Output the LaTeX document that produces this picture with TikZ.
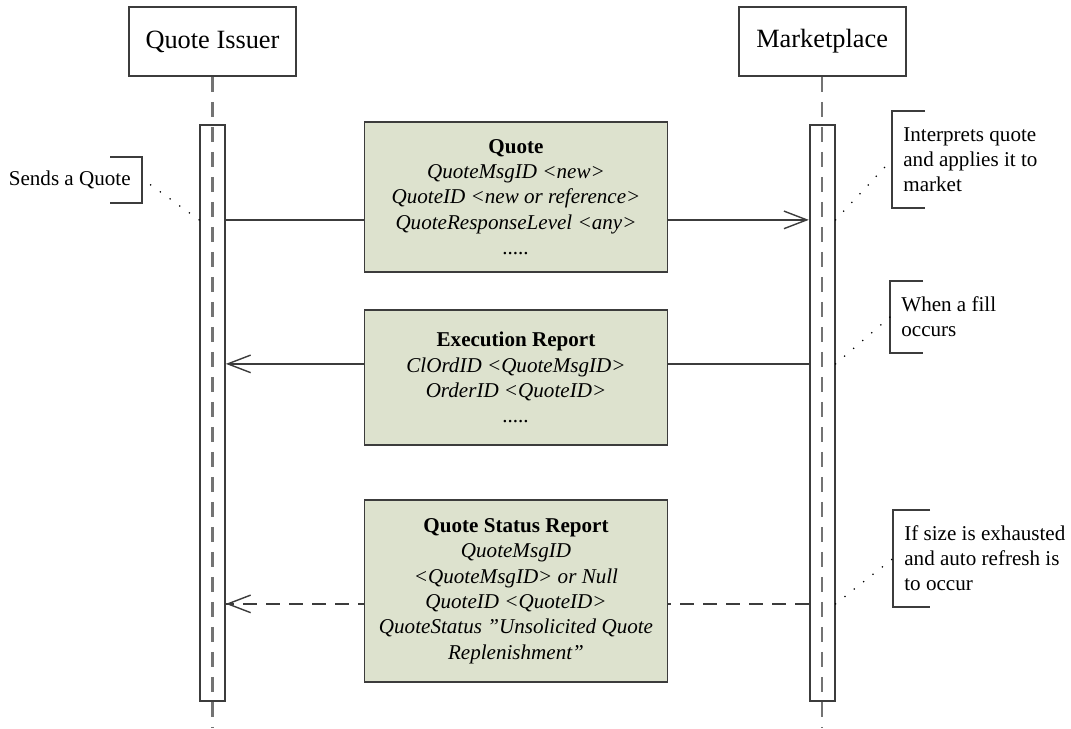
\documentclass[tikz,border=0pt]{standalone}
\usepackage{fontspec}
\setmainfont{Liberation Serif}
\usetikzlibrary{arrows.meta, positioning, calc}

\definecolor{msgfill}{RGB}{221,226,206}
\definecolor{linegray}{RGB}{60,60,60}
\definecolor{lifegray}{RGB}{115,115,115}

\begin{document}
\begin{tikzpicture}[
		x=0.02cm, y=-0.02cm,
		% Styles for the sequence diagram
		actor/.style = {draw=linegray, line width=1pt, fill=white, rectangle, minimum width=3.34cm, minimum height=1.38cm, font=\fontsize{15}{18}\selectfont},
		actbar/.style = {draw=linegray, line width=1pt, rectangle, minimum width=0.5cm, minimum height=11.53cm, inner sep=0pt, anchor=north},
		lifeline/.style = {draw=lifegray, line width=1.5pt, dash pattern=on 0.3cm off 0.2cm},
		msg/.style = {draw=linegray, line width=1pt, fill=msgfill, rectangle, minimum width=6.06cm, align=center, inner sep=0pt, font=\fontsize{12}{14.4}\selectfont\itshape},
		call/.style = {draw=linegray, line width=0.8pt},
		reply/.style = {call, dash pattern=on 0.28cm off 0.18cm},
		note/.style = {align=left, inner xsep=0.22cm, inner ysep=0pt, font=\fontsize{12}{14.2}\selectfont},
		hook/.style = {draw=linegray, line width=1pt},
		link/.style = {draw=black, line width=1pt, line cap=round, dash pattern=on 0pt off 6.8pt},
		>={Straight Barb[length=13pt, width=10pt]}
		]
		
		\useasboundingbox (0,0) rectangle (1071,728);
		\coordinate (bottom) at (0,728);
		
		% --- PARTICIPANTS ---
		\node [actor] (issuer) at (212.5,41.5) {Quote Issuer};
		\node [actor, right=8.82cm of issuer] (market) {Marketplace};
		
		% Lifelines
		\draw [lifeline] (issuer.south) -- (issuer.south |- bottom);
		\draw [lifeline] (market.south) -- (market.south |- bottom);
		
		% Activation bars
		\node [actbar] (issuer_act) at ($(issuer.south)+(0,47)$) {};
		\node [actbar] (market_act) at ($(market.south)+(0,47)$) {};
		
		% Points where the messages meet the bars
		\coordinate (q_from) at ($(issuer_act.north east)+(0,96)$);
		\coordinate (q_side) at ($(issuer_act.north west)+(0,96)$);
		\coordinate (q_to)   at ($(market_act.north west)+(0,96)$);
		\coordinate (q_out)  at ($(market_act.north east)+(0,96)$);
		\coordinate (e_to)   at ($(issuer_act.north east)+(0,240)$);
		\coordinate (e_from) at ($(market_act.north west)+(0,240)$);
		\coordinate (e_out)  at ($(market_act.north east)+(0,240)$);
		\coordinate (s_to)   at ($(issuer_act.north east)+(0,480)$);
		\coordinate (s_from) at ($(market_act.north west)+(0,480)$);
		\coordinate (s_out)  at ($(market_act.north east)+(0,480)$);
		
		% --- MESSAGES ---
		\draw [call, ->] (q_from) -- (q_to);
		\draw [call, ->] (e_from) -- (e_to);
		\draw [reply] (s_from) -- (s_to);
		\draw [call, ->] ($(s_to)+(3,0)$) -- (s_to); % solid tip on the dashed reply
		
		\node [msg, minimum height=3cm] (quote) at (516,197)
		{\textbf{\upshape Quote}\\ QuoteMsgID <new>\\ QuoteID <new or reference>\\ QuoteResponseLevel <any>\\ .....};
		
		\node [msg, minimum height=2.7cm] (exec) at (516,377.5)
		{\textbf{\upshape Execution Report}\\ ClOrdID <QuoteMsgID>\\ OrderID <QuoteID>\\ .....};
		
		\node [msg, minimum height=3.64cm] (status) at (516,591)
		{\textbf{\upshape Quote Status Report}\\ QuoteMsgID\\ <QuoteMsgID> or Null\\ QuoteID <QuoteID>\\ QuoteStatus "Unsolicited Quote\\ Replenishment"};
		
		% --- NOTES ---
		\node [note, anchor=east, minimum height=0.92cm] (sends) at (142,180) {Sends a Quote};
		\draw [hook] ($(sends.north east)+(-32,0)$) -- (sends.north east) -- (sends.south east) -- ++(-32,0);
		\draw [link] (q_side) -- ($(sends.east)+(6,3)$);
		
		\node [note, anchor=west, minimum height=1.94cm] (interp) at (892,159.5) {Interprets quote\\and applies it to\\market};
		\draw [hook] ($(interp.north west)+(33,0)$) -- (interp.north west) -- (interp.south west) -- ++(33,0);
		\draw [link] (q_out) -- (interp.west);
		
		\node [note, anchor=west, minimum height=1.44cm] (fill) at (890,317) {When a fill\\occurs};
		\draw [hook] ($(fill.north west)+(33,0)$) -- (fill.north west) -- (fill.south west) -- ++(33,0);
		\draw [link] (e_out) -- (fill.west);
		
		\node [note, anchor=west, minimum height=1.94cm] (refresh) at (893,558.5) {If size is exhausted\\and auto refresh is\\to occur};
		\draw [hook] ($(refresh.north west)+(37,0)$) -- (refresh.north west) -- (refresh.south west) -- ++(37,0);
		\draw [link] (s_out) -- (refresh.west);
		
	\end{tikzpicture}
\end{document}
